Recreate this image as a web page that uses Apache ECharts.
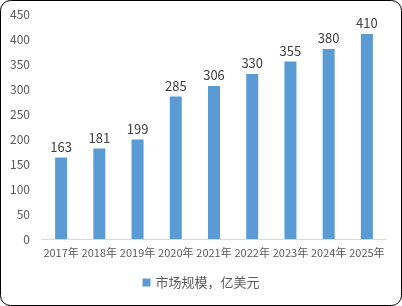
<!DOCTYPE html>
<html><head><meta charset="utf-8">
<script src="https://cdn.jsdelivr.net/npm/echarts@6/dist/echarts.min.js"></script>
<style>html,body{margin:0;padding:0;background:#fff}#c{width:402px;height:306px}</style>
</head><body><div id="c"></div>
<script>
const categories = ['2017年','2018年','2019年','2020年','2021年','2022年','2023年','2024年','2025年'];
const values = [163,181,199,285,306,330,355,380,410];
const seriesName = '市场规模，亿美元';
const yTicks = {min:0, max:450, interval:50};
const font = '"Noto Sans CJK SC", "Microsoft YaHei", sans-serif';
const chart = echarts.init(document.getElementById('c'), null, {renderer:'canvas'});
chart.setOption({
  animation:false,
  textStyle:{fontFamily:font},
  graphic:[{type:'rect',shape:{x:0.5,y:0.5,width:401,height:305,r:10},style:{fill:'none',stroke:'#000',lineWidth:1},z:100}],
  grid:{left:42,right:16,top:14,bottom:67,containLabel:false},
  xAxis:{type:'category',data:categories,
    axisLine:{lineStyle:{color:'#D9D9D9'}},axisTick:{show:false},
    axisLabel:{color:'#595959',fontSize:11,margin:8,interval:0,fontFamily:font}},
  yAxis:{type:'value',min:yTicks.min,max:yTicks.max,interval:yTicks.interval,
    axisLine:{show:false},axisTick:{show:false},splitLine:{show:false},
    axisLabel:{color:'#595959',fontSize:12,margin:12,fontFamily:font}},
  legend:{bottom:12,left:'center',itemWidth:8,itemHeight:8,icon:'rect',
    textStyle:{color:'#595959',fontSize:13,fontFamily:font},data:[seriesName]},
  series:[{name:seriesName,type:'bar',data:values,barWidth:12,
    itemStyle:{color:'#5B9BD5'},
    label:{show:true,position:'top',color:'#404040',fontSize:13,distance:4,fontFamily:font}}]
});
</script></body></html>
